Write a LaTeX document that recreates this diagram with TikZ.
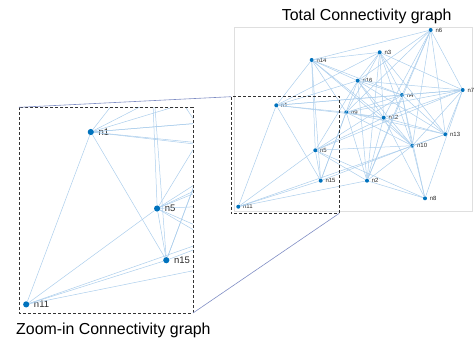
\documentclass[tikz,border=0pt]{standalone}
\usepackage{fontspec}
\setmainfont{Liberation Sans}
\usetikzlibrary{positioning}
\definecolor{mblue}{RGB}{0,114,189}
\definecolor{edgeblue}{RGB}{172,206,236}
\definecolor{linkc}{RGB}{128,142,196}
\tikzset{
    gnode/.style = {circle, fill=mblue, inner sep=0pt, minimum size=4pt},
    znode/.style = {circle, fill=mblue, inner sep=0pt, minimum size=6.2pt},
    glabel/.style = {inner sep=0pt, font=\fontsize{6}{7}\selectfont, text=black!85},
    zlabel/.style = {inner sep=0pt, font=\fontsize{9.5}{11}\selectfont, text=black!85},
    edgeb/.style = {-, line width=0.5pt, edgeblue},
    axbox/.style = {line width=0.5pt, gray!25},
    boxd/.style = {line width=0.9pt, black!80, dash pattern=on 3pt off 2pt},
    linkl/.style = {-, line width=0.6pt, linkc},
    titletxt/.style = {inner sep=0pt, font=\fontsize{15.9}{19}\selectfont}
}
% nodes: prefix, dot style, label style, label distance
\newcommand{\graphnodes}[4]{%
  \foreach \n/\x/\y in {1/276.3/105.3, 2/367/180.7, 3/379.7/52.3, 4/402/95,
      5/315.3/150.3, 6/430.7/30, 7/462.7/90, 8/425/198.3, 9/346.3/112.3,
      10/412.3/145.7, 11/238.3/206.7, 12/383.7/117.7, 13/445.3/134.3,
      14/311.7/60, 15/320.7/180.7, 16/357.7/80.7}
    {\node[#2, label={[#3, label distance=#4]right:n\n}] (#1\n) at (\x,\y) {};}
}
% edges of the connectivity graph
\newcommand{\graphedges}[1]{%
  \foreach \a/\b in {1/11, 1/15, 1/14, 1/9, 1/12, 1/4, 1/7, 1/3, 1/16,
      11/5, 11/15, 11/2, 11/13,
      14/3, 14/6, 14/5, 14/15, 14/16, 14/12, 14/4, 14/10, 14/9,
      6/7, 6/13, 6/10, 6/4, 6/16, 6/12, 6/9, 6/2,
      3/7, 3/16, 3/9, 3/12, 3/4, 3/10, 3/2, 3/13,
      7/13, 7/8, 7/10, 7/4, 7/16, 7/9, 7/12, 7/5,
      16/5, 16/15, 16/2, 16/12, 16/4, 16/10, 16/13,
      4/9, 4/10, 4/13, 4/8, 4/2, 4/5,
      9/12, 9/13, 9/2, 9/10, 9/15,
      12/13, 12/10, 12/8, 12/2, 12/5,
      13/10, 15/10, 10/5, 10/8, 10/2, 5/8, 5/2, 2/8, 5/15}
    {\draw[edgeb] (#1\a) -- (#1\b);}
}

\begin{document}
\begin{tikzpicture}[x=1pt, y=-1pt]
  \useasboundingbox (0,0) rectangle (475,345);

  % total graph
  \draw[axbox] (234,27.3) rectangle (472,211);
  \graphnodes{t}{gnode}{glabel}{2.4pt}
  \graphedges{t}

  % zoomed part
  \begin{scope}
    \clip (19,107.3) rectangle (193,313);
    \begin{scope}[shift={(-378.9,-47)}, scale=1.7]
      \graphnodes{z}{znode}{zlabel}{4.2pt}
      \graphedges{z}
    \end{scope}
  \end{scope}

  % boxes and links
  \coordinate (bignw) at (19,107.3);
  \coordinate (bigse) at (193,313);
  \coordinate (smallnw) at (231,96.7);
  \coordinate (smallse) at (339.3,213.3);
  \draw[boxd] (smallnw) rectangle (smallse);
  \draw[boxd] (bignw) rectangle (bigse);
  \draw[linkl] (bignw) -- (smallnw);
  \draw[linkl] (bigse) -- (smallse);

  \node[titletxt, anchor=base west] (ttitle) at (281.7,20.3) {Total Connectivity graph};
  \node[titletxt, anchor=base west] (ztitle) at (16,334.1) {Zoom-in Connectivity graph};
\end{tikzpicture}
\end{document}
